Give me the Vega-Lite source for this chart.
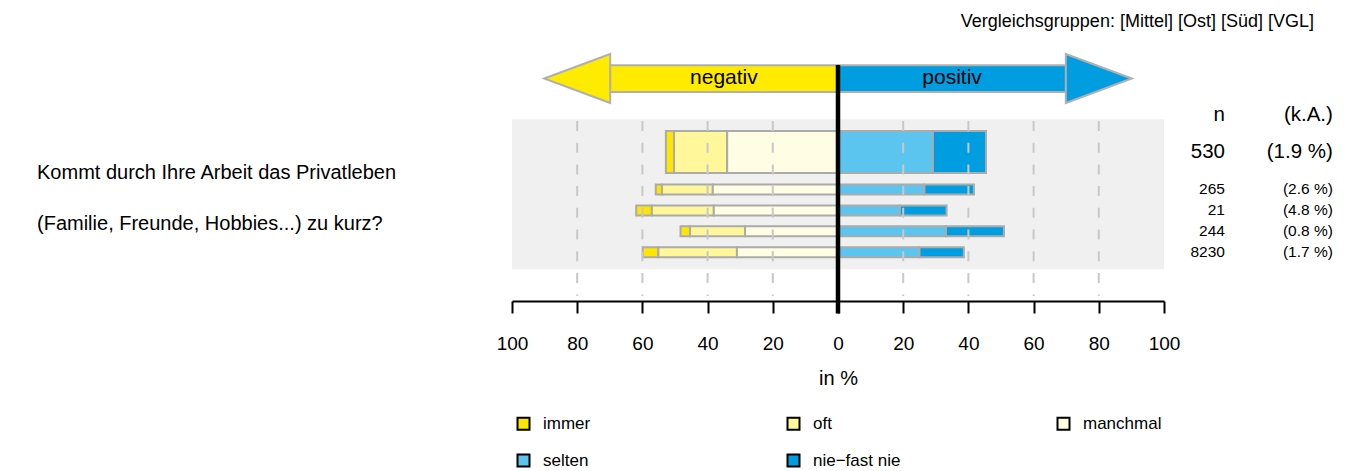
{
  "$schema": "https://vega.github.io/schema/vega-lite/v6.json",
  "width": 652,
  "height": 301,
  "autosize": {"type": "none"},
  "padding": {"left": 512, "right": 187, "top": 0, "bottom": 170},
  "background": "white",
  "config": {
    "view": {"stroke": null},
    "font": "Liberation Sans",
    "axisX": {"grid": false, "domainColor": "black", "domainWidth": 2, "tickColor": "black", "tickWidth": 2, "tickSize": 12,
      "labelFontSize": 19, "labelFont": "Liberation Sans", "labelColor": "black", "labelPadding": 21,
      "labelFlush": false, "labelOverlap": false,
      "titleFontSize": 20, "titleFont": "Liberation Sans", "titleFontWeight": "normal", "titleColor": "black", "titlePadding": 15}
  },
  "datasets": {
    "bars": [
      {"group": "Gesamt", "row": 0, "cat": "immer", "rank": 3, "pct": -2.5},
      {"group": "Gesamt", "row": 0, "cat": "oft", "rank": 2, "pct": -16.3},
      {"group": "Gesamt", "row": 0, "cat": "manchmal", "rank": 1, "pct": -34.0},
      {"group": "Gesamt", "row": 0, "cat": "selten", "rank": 1, "pct": 29.1},
      {"group": "Gesamt", "row": 0, "cat": "nie−fast nie", "rank": 2, "pct": 16.3},
      {"group": "Mittel", "row": 1, "cat": "immer", "rank": 3, "pct": -1.9},
      {"group": "Mittel", "row": 1, "cat": "oft", "rank": 2, "pct": -15.6},
      {"group": "Mittel", "row": 1, "cat": "manchmal", "rank": 1, "pct": -38.4},
      {"group": "Mittel", "row": 1, "cat": "selten", "rank": 1, "pct": 26.5},
      {"group": "Mittel", "row": 1, "cat": "nie−fast nie", "rank": 2, "pct": 15.2},
      {"group": "Ost", "row": 2, "cat": "immer", "rank": 3, "pct": -4.8},
      {"group": "Ost", "row": 2, "cat": "oft", "rank": 2, "pct": -19.0},
      {"group": "Ost", "row": 2, "cat": "manchmal", "rank": 1, "pct": -38.1},
      {"group": "Ost", "row": 2, "cat": "selten", "rank": 1, "pct": 19.0},
      {"group": "Ost", "row": 2, "cat": "nie−fast nie", "rank": 2, "pct": 14.3},
      {"group": "Süd", "row": 3, "cat": "immer", "rank": 3, "pct": -2.9},
      {"group": "Süd", "row": 3, "cat": "oft", "rank": 2, "pct": -16.9},
      {"group": "Süd", "row": 3, "cat": "manchmal", "rank": 1, "pct": -28.5},
      {"group": "Süd", "row": 3, "cat": "selten", "rank": 1, "pct": 33.1},
      {"group": "Süd", "row": 3, "cat": "nie−fast nie", "rank": 2, "pct": 17.8},
      {"group": "VGL", "row": 4, "cat": "immer", "rank": 3, "pct": -4.8},
      {"group": "VGL", "row": 4, "cat": "oft", "rank": 2, "pct": -24.1},
      {"group": "VGL", "row": 4, "cat": "manchmal", "rank": 1, "pct": -31.0},
      {"group": "VGL", "row": 4, "cat": "selten", "rank": 1, "pct": 25.0},
      {"group": "VGL", "row": 4, "cat": "nie−fast nie", "rank": 2, "pct": 13.6}
    ],
    "groups": [
      {"group": "Gesamt", "row": 0, "n": "530", "ka": "(1.9 %)"},
      {"group": "Mittel", "row": 1, "n": "265", "ka": "(2.6 %)"},
      {"group": "Ost", "row": 2, "n": "21", "ka": "(4.8 %)"},
      {"group": "Süd", "row": 3, "n": "244", "ka": "(0.8 %)"},
      {"group": "VGL", "row": 4, "n": "8230", "ka": "(1.7 %)"}
    ],
    "grid": [
      {"tick": -80}, {"tick": -60}, {"tick": -40}, {"tick": -20},
      {"tick": 20}, {"tick": 40}, {"tick": 60}, {"tick": 80}
    ]
  },
  "layer": [
    {
      "data": {"values": [{}]},
      "mark": {"type": "rect", "fill": "#F0F0F0"},
      "encoding": {
        "x": {"datum": -100, "type": "quantitative", "scale": {"domain": [-100, 100], "nice": false, "zero": false},
          "axis": {"values": [-100, -80, -60, -40, -20, 0, 20, 40, 60, 80, 100], "labelExpr": "abs(datum.value)", "title": "in %"}},
        "x2": {"datum": 100},
        "y": {"datum": -2.353, "type": "quantitative", "scale": {"domain": [-7.822, 6.094], "reverse": true, "nice": false, "zero": false}, "axis": null},
        "y2": {"datum": 4.813}
      }
    },
    {
      "data": {"name": "bars"},
      "transform": [
        {"filter": "datum.group === 'Gesamt'"},
        {"stack": "pct", "groupby": ["group"], "sort": [{"field": "rank", "order": "ascending"}], "as": ["x0", "x1"]}
      ],
      "mark": {"type": "bar", "orient": "horizontal", "size": 42, "stroke": "#ABABAB", "strokeWidth": 2},
      "encoding": {
        "x": {"field": "x0", "type": "quantitative",
          "axis": {"values": [-100, -80, -60, -40, -20, 0, 20, 40, 60, 80, 100], "labelExpr": "abs(datum.value)", "title": "in %"}},
        "x2": {"field": "x1"},
        "y": {"datum": -0.795, "type": "quantitative", "axis": null},
        "fill": {"field": "cat", "type": "nominal",
          "scale": {"domain": ["immer", "oft", "manchmal", "selten", "nie−fast nie"], "range": ["#FFE500", "#FFF799", "#FFFDE3", "#5BC5F0", "#009EE0"]},
          "legend": {"orient": "none", "legendX": 3, "legendY": 415, "title": null, "columns": 3, "direction": "horizontal", "gridAlign": "all",
            "symbolType": "square", "symbolSize": 144, "symbolStrokeColor": "black", "symbolStrokeWidth": 2,
            "labelFontSize": 17, "labelFont": "Liberation Sans", "labelColor": "black", "labelOffset": 11,
            "rowPadding": 16, "columnPadding": 152,
            "encode": {"symbols": {"update": {"stroke": {"value": "black"}, "strokeWidth": {"value": 2}}}}}}
      }
    },
    {
      "data": {"name": "bars"},
      "transform": [
        {"filter": "datum.group !== 'Gesamt'"},
        {"stack": "pct", "groupby": ["group"], "sort": [{"field": "rank", "order": "ascending"}], "as": ["x0", "x1"]}
      ],
      "mark": {"type": "bar", "orient": "horizontal", "size": 10, "stroke": "#ABABAB", "strokeWidth": 2},
      "encoding": {
        "x": {"field": "x0", "type": "quantitative",
          "axis": {"values": [-100, -80, -60, -40, -20, 0, 20, 40, 60, 80, 100], "labelExpr": "abs(datum.value)", "title": "in %"}},
        "x2": {"field": "x1"},
        "y": {"field": "row", "type": "quantitative", "axis": null},
        "fill": {"field": "cat", "type": "nominal",
          "legend": {"orient": "none", "legendX": 3, "legendY": 415, "title": null, "columns": 3, "direction": "horizontal", "gridAlign": "all",
            "symbolType": "square", "symbolSize": 144, "symbolStrokeColor": "black", "symbolStrokeWidth": 2,
            "labelFontSize": 17, "labelFont": "Liberation Sans", "labelColor": "black", "labelOffset": 11,
            "rowPadding": 16, "columnPadding": 152,
            "encode": {"symbols": {"update": {"stroke": {"value": "black"}, "strokeWidth": {"value": 2}}}}}}
      }
    },
    {
      "data": {"name": "grid"},
      "mark": {"type": "rule", "stroke": "#C8C8C8", "strokeWidth": 2, "strokeDash": [10, 11.7]},
      "encoding": {
        "x": {"field": "tick", "type": "quantitative",
          "axis": {"values": [-100, -80, -60, -40, -20, 0, 20, 40, 60, 80, 100], "labelExpr": "abs(datum.value)", "title": "in %"}},
        "y": {"datum": -2.275, "type": "quantitative", "axis": null},
        "y2": {"datum": 6.094}
      }
    },
    {
      "data": {"values": [{}]},
      "mark": {"type": "rect", "fill": "#FFEB00", "stroke": "#B0B0B0", "strokeWidth": 2},
      "encoding": {
        "x": {"datum": -70, "type": "quantitative",
          "axis": {"values": [-100, -80, -60, -40, -20, 0, 20, 40, 60, 80, 100], "labelExpr": "abs(datum.value)", "title": "in %"}},
        "x2": {"datum": 0},
        "y": {"datum": -4.942, "type": "quantitative", "axis": null},
        "y2": {"datum": -3.662}
      }
    },
    {
      "data": {"values": [{}]},
      "mark": {"type": "rect", "fill": "#009EE0", "stroke": "#B0B0B0", "strokeWidth": 2},
      "encoding": {
        "x": {"datum": 0, "type": "quantitative",
          "axis": {"values": [-100, -80, -60, -40, -20, 0, 20, 40, 60, 80, 100], "labelExpr": "abs(datum.value)", "title": "in %"}},
        "x2": {"datum": 70},
        "y": {"datum": -4.942, "type": "quantitative", "axis": null},
        "y2": {"datum": -3.662}
      }
    },
    {
      "data": {"values": [{}]},
      "mark": {"type": "point", "shape": "M-1,0L1,-0.742L1,0.742Z", "size": 4356, "filled": true, "fill": "#FFEB00", "stroke": "#B0B0B0", "strokeWidth": 2, "opacity": 1},
      "encoding": {
        "x": {"datum": -80, "type": "quantitative",
          "axis": {"values": [-100, -80, -60, -40, -20, 0, 20, 40, 60, 80, 100], "labelExpr": "abs(datum.value)", "title": "in %"}},
        "y": {"datum": -4.309, "type": "quantitative", "axis": null}
      }
    },
    {
      "data": {"values": [{}]},
      "mark": {"type": "point", "shape": "M1,0L-1,-0.742L-1,0.742Z", "size": 4356, "filled": true, "fill": "#009EE0", "stroke": "#B0B0B0", "strokeWidth": 2, "opacity": 1},
      "encoding": {
        "x": {"datum": 80, "type": "quantitative",
          "axis": {"values": [-100, -80, -60, -40, -20, 0, 20, 40, 60, 80, 100], "labelExpr": "abs(datum.value)", "title": "in %"}},
        "y": {"datum": -4.309, "type": "quantitative", "axis": null}
      }
    },
    {
      "data": {"values": [{}]},
      "mark": {"type": "text", "text": "negativ", "fontSize": 21, "font": "Liberation Sans", "color": "black", "align": "center", "baseline": "middle"},
      "encoding": {
        "x": {"datum": -35, "type": "quantitative",
          "axis": {"values": [-100, -80, -60, -40, -20, 0, 20, 40, 60, 80, 100], "labelExpr": "abs(datum.value)", "title": "in %"}},
        "y": {"datum": -4.309, "type": "quantitative", "axis": null}
      }
    },
    {
      "data": {"values": [{}]},
      "mark": {"type": "text", "text": "positiv", "fontSize": 21, "font": "Liberation Sans", "color": "black", "align": "center", "baseline": "middle"},
      "encoding": {
        "x": {"datum": 35, "type": "quantitative",
          "axis": {"values": [-100, -80, -60, -40, -20, 0, 20, 40, 60, 80, 100], "labelExpr": "abs(datum.value)", "title": "in %"}},
        "y": {"datum": -4.309, "type": "quantitative", "axis": null}
      }
    },
    {
      "data": {"values": [{}]},
      "mark": {"type": "rule", "stroke": "black", "strokeWidth": 4.5, "strokeCap": "butt"},
      "encoding": {
        "x": {"datum": 0, "type": "quantitative",
          "axis": {"values": [-100, -80, -60, -40, -20, 0, 20, 40, 60, 80, 100], "labelExpr": "abs(datum.value)", "title": "in %"}},
        "y": {"datum": -4.956, "type": "quantitative", "axis": null},
        "y2": {"datum": 6.926}
      }
    },
    {
      "data": {"name": "groups"},
      "transform": [{"filter": "datum.group === 'Gesamt'"}],
      "mark": {"type": "text", "fontSize": 20.5, "font": "Liberation Sans", "color": "black", "align": "right", "baseline": "middle"},
      "encoding": {
        "x": {"datum": 118.7, "type": "quantitative",
          "axis": {"values": [-100, -80, -60, -40, -20, 0, 20, 40, 60, 80, 100], "labelExpr": "abs(datum.value)", "title": "in %"}},
        "y": {"datum": -0.795, "type": "quantitative", "axis": null},
        "text": {"field": "n"}
      }
    },
    {
      "data": {"name": "groups"},
      "transform": [{"filter": "datum.group === 'Gesamt'"}],
      "mark": {"type": "text", "fontSize": 20.5, "font": "Liberation Sans", "color": "black", "align": "right", "baseline": "middle"},
      "encoding": {
        "x": {"datum": 151.8, "type": "quantitative",
          "axis": {"values": [-100, -80, -60, -40, -20, 0, 20, 40, 60, 80, 100], "labelExpr": "abs(datum.value)", "title": "in %"}},
        "y": {"datum": -0.795, "type": "quantitative", "axis": null},
        "text": {"field": "ka"}
      }
    },
    {
      "data": {"name": "groups"},
      "transform": [{"filter": "datum.group !== 'Gesamt'"}],
      "mark": {"type": "text", "fontSize": 15.5, "font": "Liberation Sans", "color": "black", "align": "right", "baseline": "middle"},
      "encoding": {
        "x": {"datum": 118.7, "type": "quantitative",
          "axis": {"values": [-100, -80, -60, -40, -20, 0, 20, 40, 60, 80, 100], "labelExpr": "abs(datum.value)", "title": "in %"}},
        "y": {"field": "row", "type": "quantitative", "axis": null},
        "text": {"field": "n"}
      }
    },
    {
      "data": {"name": "groups"},
      "transform": [{"filter": "datum.group !== 'Gesamt'"}],
      "mark": {"type": "text", "fontSize": 15.5, "font": "Liberation Sans", "color": "black", "align": "right", "baseline": "middle"},
      "encoding": {
        "x": {"datum": 151.8, "type": "quantitative",
          "axis": {"values": [-100, -80, -60, -40, -20, 0, 20, 40, 60, 80, 100], "labelExpr": "abs(datum.value)", "title": "in %"}},
        "y": {"field": "row", "type": "quantitative", "axis": null},
        "text": {"field": "ka"}
      }
    },
    {
      "data": {"values": [{}]},
      "mark": {"type": "text", "text": "n", "fontSize": 20.5, "font": "Liberation Sans", "color": "black", "align": "right", "baseline": "middle"},
      "encoding": {
        "x": {"datum": 118.7, "type": "quantitative",
          "axis": {"values": [-100, -80, -60, -40, -20, 0, 20, 40, 60, 80, 100], "labelExpr": "abs(datum.value)", "title": "in %"}},
        "y": {"datum": -2.552, "type": "quantitative", "axis": null}
      }
    },
    {
      "data": {"values": [{}]},
      "mark": {"type": "text", "text": "(k.A.)", "fontSize": 20.5, "font": "Liberation Sans", "color": "black", "align": "right", "baseline": "middle"},
      "encoding": {
        "x": {"datum": 151.8, "type": "quantitative",
          "axis": {"values": [-100, -80, -60, -40, -20, 0, 20, 40, 60, 80, 100], "labelExpr": "abs(datum.value)", "title": "in %"}},
        "y": {"datum": -2.552, "type": "quantitative", "axis": null}
      }
    },
    {
      "data": {"values": [{}]},
      "mark": {"type": "text", "text": "Kommt durch Ihre Arbeit das Privatleben", "fontSize": 20, "font": "Liberation Sans", "color": "black", "align": "left", "baseline": "middle"},
      "encoding": {
        "x": {"datum": -245.7, "type": "quantitative",
          "axis": {"values": [-100, -80, -60, -40, -20, 0, 20, 40, 60, 80, 100], "labelExpr": "abs(datum.value)", "title": "in %"}},
        "y": {"datum": 0.199, "type": "quantitative", "axis": null}
      }
    },
    {
      "data": {"values": [{}]},
      "mark": {"type": "text", "text": "(Familie, Freunde, Hobbies...) zu kurz?", "fontSize": 20, "font": "Liberation Sans", "color": "black", "align": "left", "baseline": "middle"},
      "encoding": {
        "x": {"datum": -245.7, "type": "quantitative",
          "axis": {"values": [-100, -80, -60, -40, -20, 0, 20, 40, 60, 80, 100], "labelExpr": "abs(datum.value)", "title": "in %"}},
        "y": {"datum": 2.649, "type": "quantitative", "axis": null}
      }
    },
    {
      "data": {"values": [{}]},
      "mark": {"type": "text", "text": "Vergleichsgruppen: [Mittel] [Ost] [Süd] [VGL]", "fontSize": 18, "font": "Liberation Sans", "color": "black", "align": "right", "baseline": "middle"},
      "encoding": {
        "x": {"datum": 146.0, "type": "quantitative",
          "axis": {"values": [-100, -80, -60, -40, -20, 0, 20, 40, 60, 80, 100], "labelExpr": "abs(datum.value)", "title": "in %"}},
        "y": {"datum": -6.99, "type": "quantitative", "axis": null}
      }
    }
  ]
}
